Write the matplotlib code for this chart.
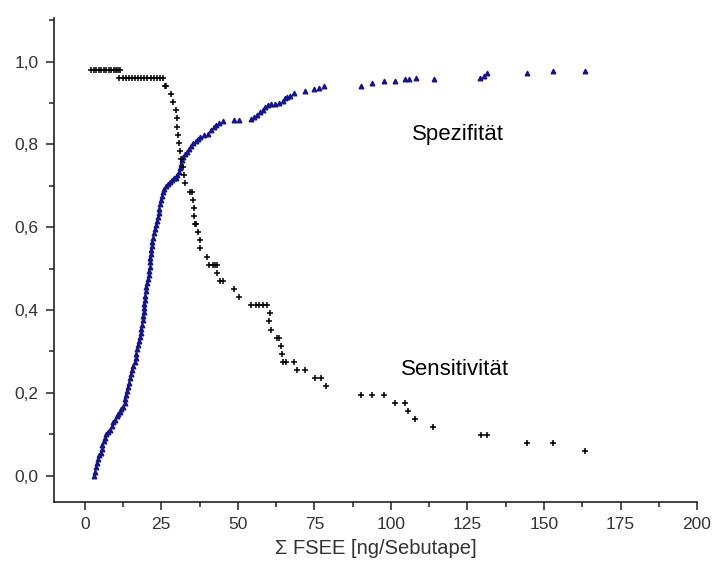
import matplotlib
matplotlib.use("Agg")
import matplotlib.pyplot as plt
from matplotlib.ticker import MultipleLocator, FuncFormatter

# Sensitivität (schwarze Kreuze)
sens_x = [2.2, 3.0, 3.8, 4.6, 5.4, 6.2, 7.0, 7.8, 8.6, 9.4, 10.2, 11.0, 11.6,
          11.2, 12.5, 13.5, 14.5, 15.5, 16.5, 17.5, 18.5, 19.5, 20.5, 21.5, 22.5, 23.5, 24.5, 25.5,
          26.1, 26.6, 28.3, 28.9, 29.7, 30.0, 30.2, 30.4, 30.7, 31.1, 31.5, 32.2, 32.4, 32.7,
          34.5, 35.0, 35.3, 35.6, 35.8, 36.1, 36.5, 37.1, 37.6, 37.8, 39.8,
          40.6, 41.8, 42.4, 43.1, 43.3, 44.2, 45.1, 48.7, 50.4,
          54.2, 55.8, 56.9, 58.3, 59.4, 60.4, 60.3, 61.0, 62.9, 63.4, 64.0, 64.5,
          64.8, 65.8, 68.4, 69.2, 71.8, 75.2, 77.2, 78.7,
          90.3, 93.8, 97.7, 101.2, 104.5, 105.6, 108.0, 113.9,
          129.4, 131.4, 144.4, 152.9, 163.4]
sens_y = [0.98] * 13 + [0.96] * 15 + \
         [0.941, 0.941, 0.922, 0.902, 0.882, 0.863, 0.843, 0.824, 0.804, 0.784, 0.765, 0.745, 0.725, 0.706,
          0.686, 0.686, 0.667, 0.647, 0.627, 0.608, 0.608, 0.588, 0.569, 0.549, 0.529,
          0.51, 0.51, 0.51, 0.51, 0.49, 0.471, 0.471, 0.451, 0.431,
          0.412, 0.412, 0.412, 0.412, 0.412, 0.392, 0.373, 0.353, 0.333, 0.333, 0.314, 0.294,
          0.275, 0.275, 0.275, 0.255, 0.255, 0.235, 0.235, 0.216,
          0.196, 0.196, 0.196, 0.176, 0.176, 0.157, 0.137, 0.118,
          0.098, 0.098, 0.078, 0.078, 0.059]

# Spezifität (blaue Dreiecke)
spez_x = [3.0, 3.3, 3.6, 4.0, 4.3, 4.7, 5.2, 5.5, 5.8, 6.2, 6.6, 7.1, 7.7, 8.3, 8.8, 9.3, 9.8,
          10.4, 10.9, 11.5, 12.0, 12.6, 13.0, 13.3, 13.6, 13.9, 14.2, 14.5, 14.8, 15.1, 15.5,
          15.9, 16.3, 16.6, 16.9, 17.2, 17.4, 17.7, 18.0, 18.3, 18.5, 18.7, 18.9, 19.0, 19.2,
          19.3, 19.5, 19.6, 19.8, 19.9, 20.1, 20.4, 20.7, 20.9, 21.1, 21.2, 21.3, 21.4, 21.5,
          21.7, 21.9, 22.0, 22.2, 22.5, 22.8, 23.2, 23.5, 23.8, 24.1, 24.3, 24.5, 24.8, 25.1,
          25.5, 26.0, 26.6, 27.2, 27.8, 28.4, 29.0, 29.7, 30.3, 30.8, 31.2, 31.5, 31.8, 32.2,
          32.8, 33.5, 34.2, 34.8, 35.5, 36.2, 36.9, 37.8, 39.0, 40.2, 41.2, 42.2, 43.0, 43.8,
          45.2, 48.7, 50.3, 54.2, 55.4, 56.4, 57.3, 58.2, 59.0, 59.8, 61.0, 62.2, 63.6, 64.6,
          65.4, 66.2, 67.0, 68.4, 71.9, 75.0, 76.5, 78.0,
          90.3, 93.8, 97.7, 101.2, 104.7, 105.9, 108.2, 114.0,
          129.2, 130.3, 131.4, 144.4, 152.9, 163.5]
spez_y = [0.0, 0.01, 0.02, 0.03, 0.04, 0.05, 0.055, 0.065, 0.075, 0.085, 0.09, 0.1, 0.105, 0.11, 0.12, 0.13, 0.135,
          0.145, 0.15, 0.155, 0.16, 0.165, 0.175, 0.185, 0.195, 0.205, 0.215, 0.225, 0.235, 0.245, 0.255,
          0.265, 0.275, 0.285, 0.295, 0.305, 0.315, 0.325, 0.335, 0.345, 0.355, 0.365, 0.375, 0.385, 0.395,
          0.405, 0.415, 0.425, 0.435, 0.445, 0.455, 0.465, 0.475, 0.485, 0.495, 0.505, 0.515, 0.525, 0.535,
          0.545, 0.555, 0.565, 0.575, 0.585, 0.595, 0.605, 0.615, 0.625, 0.635, 0.645, 0.655, 0.665, 0.675,
          0.685, 0.693, 0.7, 0.705, 0.71, 0.715, 0.718, 0.72, 0.725, 0.733, 0.742, 0.752, 0.762, 0.77,
          0.776, 0.782, 0.788, 0.796, 0.803, 0.808, 0.813, 0.819, 0.822, 0.826, 0.834, 0.842, 0.848, 0.852,
          0.856, 0.859, 0.859, 0.861, 0.866, 0.872, 0.878, 0.884, 0.89, 0.895, 0.898, 0.898, 0.901, 0.906,
          0.912, 0.914, 0.917, 0.924, 0.929, 0.934, 0.937, 0.94,
          0.942, 0.948, 0.953, 0.954, 0.959, 0.959, 0.96, 0.959,
          0.961, 0.965, 0.972, 0.973, 0.977, 0.977]

plt.rcParams['font.family'] = ['Liberation Sans', 'DejaVu Sans']

fig = plt.figure(figsize=(7.12, 5.67), dpi=100)
ax = fig.add_axes([0.076, 0.115, 0.903, 0.853])

ax.plot(spez_x, spez_y, linestyle='none', marker='^', markersize=3.4,
        color='#14148a', markeredgewidth=0.9)
ax.plot(sens_x, sens_y, linestyle='none', marker='+', markersize=4.3,
        color='black', markeredgewidth=1.1)

ax.text(122, 0.824, 'Spezifität', fontsize=16, ha='center', va='center')
ax.text(121, 0.256, 'Sensitivität', fontsize=16, ha='center', va='center')

ax.set_xlim(-10, 200)
ax.set_ylim(-0.063, 1.105)
ax.xaxis.set_major_locator(MultipleLocator(25))
ax.xaxis.set_minor_locator(MultipleLocator(12.5))
ax.yaxis.set_major_locator(MultipleLocator(0.2))
ax.yaxis.set_minor_locator(MultipleLocator(0.1))
ax.yaxis.set_major_formatter(FuncFormatter(lambda v, p: f'{v:.1f}'.replace('.', ',')))

for s in ['top', 'right']:
    ax.spines[s].set_visible(False)
for s in ['left', 'bottom']:
    ax.spines[s].set_linewidth(1.2)
    ax.spines[s].set_color('#222222')

ax.tick_params(which='major', direction='out', length=6, width=1.1, labelsize=12.5,
               colors='#222222', labelcolor='#333333')
ax.tick_params(which='minor', direction='out', length=3.5, width=1.1, colors='#222222')
ax.tick_params(axis='x', pad=5)
ax.tick_params(axis='y', pad=5)

ax.set_xlabel('Σ FSEE [ng/Sebutape]', fontsize=14.5, color='#333333', labelpad=5)

fig.savefig('out.png', dpi=100)
